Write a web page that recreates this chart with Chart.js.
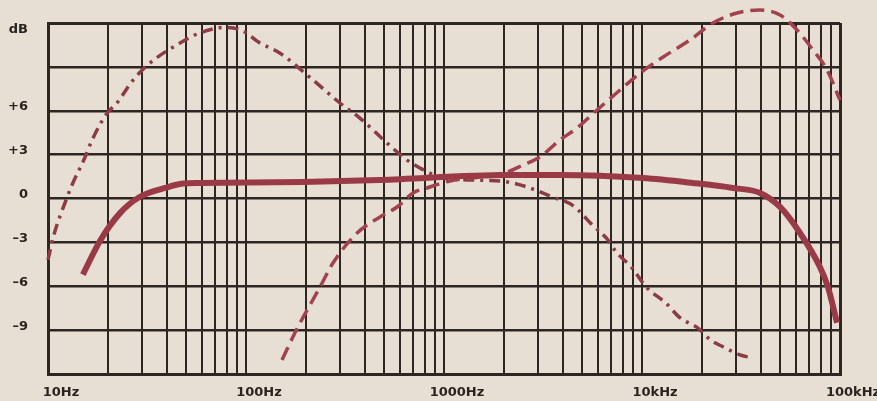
<!DOCTYPE html>
<html>
<head>
<meta charset="utf-8">
<script src="https://cdn.jsdelivr.net/npm/chart.js@4"></script>
<style>
  html, body { margin: 0; padding: 0; background: #e8dfd4; }
  #wrap { width: 877px; height: 401px; }
</style>
</head>
<body>
<div id="wrap"><canvas id="responseChart"></canvas></div>
<script>
// frequency response, three curves (Hz / dB)
const solidFreq = [15, 18.3, 23.1, 29, 39, 48, 58.5, 194, 475, 2080, 3850, 10100, 18100, 28800, 39500, 49800, 62800, 79200, 86900, 96600];
const solidDb   = [-5.2, -2.9, -1.0, 0.1, 0.72, 1.02, 1.06, 1.13, 1.27, 1.61, 1.61, 1.4, 1.06, 0.72, 0.38, -0.58, -2.36, -4.68, -6.05, -8.5];

const dashFreq = [152, 172.5, 187.5, 236.6, 275, 364, 475, 579, 697, 820, 1072, 1520, 2080, 2506, 3050, 3850, 4700, 5930, 7750, 9780, 12800, 17500, 22800, 30200, 39500, 49800, 60700, 73100, 86000, 100000];
const dashDb   = [-11.04, -9.47, -8.51, -6.05, -4.41, -2.36, -1.26, -0.58, 0.38, 0.72, 1.2, 1.47, 1.81, 2.29, 2.84, 4.0, 4.82, 6.05, 7.42, 8.58, 9.68, 10.84, 12.0, 12.68, 12.89, 12.55, 11.52, 10.15, 8.79, 6.73];

const dotFreq = [10, 10.6, 12.5, 13.2, 15.4, 16.7, 19.9, 22.3, 26.9, 32.7, 46.4, 58.5, 78, 95, 117.6, 148, 218, 298, 376, 516, 650, 755, 950, 1350, 1920, 2230, 2620, 3540, 4500, 5600, 6600, 7410, 8910, 10500, 13200, 15600, 19100, 22200, 25800, 31400, 36500];
const dotDb   = [-4.2, -2.7, 0.1, 0.9, 2.84, 4.0, 5.85, 6.53, 8.1, 9.26, 10.63, 11.32, 11.7, 11.5, 10.63, 9.95, 8.1, 6.53, 5.5, 3.79, 2.63, 2.09, 1.47, 1.27, 1.2, 1.06, 0.79, 0.1, -0.5, -1.8, -2.7, -3.66, -4.75, -6.05, -7.15, -8.17, -8.85, -9.68, -10.15, -10.7, -10.91];

// axis grid and labels ("dB" sits a little below the top line)
const freqGrid = [10, 20, 30, 40, 50, 60, 70, 80, 90,
                  100, 200, 300, 400, 500, 600, 700, 800, 900,
                  1000, 2000, 3000, 4000, 5000, 6000, 7000, 8000, 9000,
                  10000, 20000, 30000, 40000, 50000, 60000, 70000, 80000, 90000, 100000];
const freqLabelValues = [10, 100, 1000, 10000, 100000];
const freqLabels = ['10Hz', '100Hz', '1000Hz', '10kHz', '100kHz'];
const dbTicks  = [-12, -9, -6, -3, 0, 3, 6, 9, 11.3, 12];
const dbLabels = ['', '–9', '–6', '–3', '0', '+3', '+6', '', 'dB', ''];

const toPoints = (freqs, vals) => freqs.map((f, i) => ({ x: f, y: vals[i] }));

const gridColor = '#2e2622';
const labelFont = { family: 'DejaVu Sans', size: 13, weight: 'bold' };

const ctx = document.getElementById('responseChart').getContext('2d');
const responseChart = new Chart(ctx, {
    type: 'line',
    data: {
        datasets: [{
            label: 'response',
            data: toPoints(solidFreq, solidDb),
            borderColor: '#9b3a47',
            borderWidth: 6,
            pointRadius: 0,
            cubicInterpolationMode: 'monotone',
            fill: false,
            clip: false,
        }, {
            label: 'high',
            data: toPoints(dashFreq, dashDb),
            borderColor: '#a3424f',
            borderWidth: 3.5,
            borderDash: [14, 7],
            pointRadius: 0,
            cubicInterpolationMode: 'monotone',
            fill: false,
            clip: false,
        }, {
            label: 'low',
            data: toPoints(dotFreq, dotDb),
            borderColor: '#8c3c46',
            borderWidth: 3.5,
            borderDash: [11, 6, 3, 6],
            pointRadius: 0,
            cubicInterpolationMode: 'monotone',
            fill: false,
            clip: false,
        }]
    },
    options: {
        responsive: true,
        maintainAspectRatio: false,
        animation: false,
        layout: { padding: { top: 23, right: 37, left: 0, bottom: 0 } },
        plugins: {
            legend: { display: false },
            tooltip: { enabled: false },
        },
        scales: {
            x: {
                type: 'logarithmic',
                min: 10,
                max: 100000,
                afterBuildTicks: (s) => { s.ticks = freqGrid.map(v => ({ value: v })); },
                afterFit: (s) => { s.height = 27; s.paddingLeft = 0; s.paddingRight = 0; },
                grid: {
                    color: gridColor,
                    lineWidth: (c) => (c.tick && (c.tick.value === 10 || c.tick.value === 100000)) ? 3 : 2,
                    drawTicks: false,
                },
                border: { color: gridColor, width: 3 },
                ticks: {
                    autoSkip: false,
                    maxRotation: 0,
                    minRotation: 0,
                    padding: 11,
                    labelOffset: 13,
                    color: '#2a2420',
                    font: labelFont,
                    callback: (v) => {
                        const i = freqLabelValues.indexOf(v);
                        return i >= 0 ? freqLabels[i] : '';
                    },
                },
            },
            y: {
                min: -12,
                max: 12,
                afterBuildTicks: (s) => { s.ticks = dbTicks.map(v => ({ value: v })); },
                afterFit: (s) => { s.width = 48; s.paddingTop = 0; s.paddingBottom = 0; },
                grid: {
                    color: (c) => (c.tick && c.tick.value === 11.3) ? 'rgba(0,0,0,0)' : gridColor,
                    lineWidth: (c) => (c.tick && Math.abs(c.tick.value) === 12) ? 3 : 2.5,
                    drawTicks: false,
                },
                border: { color: gridColor, width: 3 },
                ticks: {
                    padding: 20,
                    labelOffset: -4,
                    color: '#2a2420',
                    font: labelFont,
                    callback: (v) => {
                        const i = dbTicks.indexOf(v);
                        return i >= 0 ? dbLabels[i] : '';
                    },
                },
            },
        },
    },
});
</script>
</body>
</html>
